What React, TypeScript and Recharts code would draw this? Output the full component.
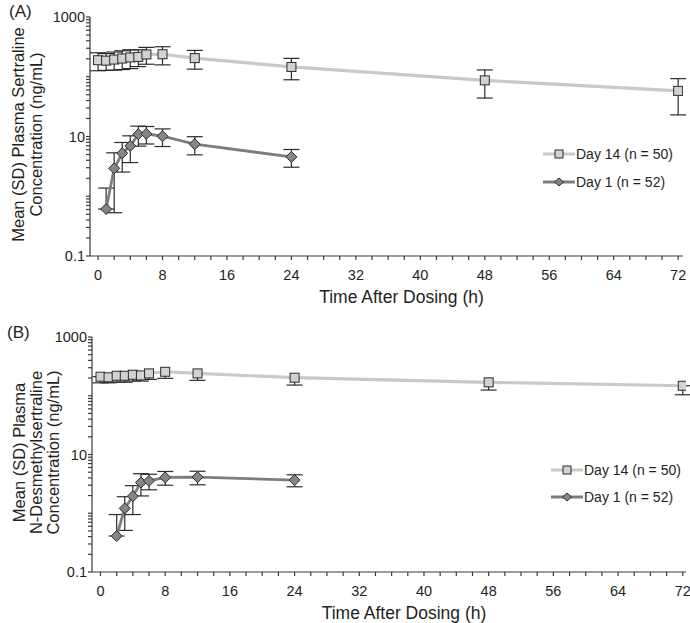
import { LineChart, Line, XAxis, YAxis, ErrorBar } from "recharts"

// sampling times (h)
const day14Times = [0, 1, 2, 3, 4, 5, 6, 8, 12, 24, 48, 72]
const day1TimesA = [1, 2, 3, 4, 5, 6, 8, 12, 24]
const day1TimesB = [2, 3, 4, 5, 6, 8, 12, 24]

// (A) sertraline, ng/mL
const sertDay14Mean = [189, 186, 194, 202, 210, 215, 236, 238, 205, 146, 87, 58]
const sertDay14Sd = [63, 58, 65, 70, 73, 67, 74, 80, 71, 57, 43, 35]
const sertDay1Mean = [0.61, 2.93, 5.24, 6.96, 10.9, 11.1, 10.1, 7.43, 4.56]
const sertDay1Sd = [0.76, 2.4, 2.7, 3.3, 4.0, 3.6, 3.3, 2.5, 1.5]

// (B) N-desmethylsertraline, ng/mL
const desDay14Mean = [211, 206, 219, 219, 228, 222, 240, 256, 240, 203, 169, 148]
const desDay14Sd = [45, 40, 48, 49, 50, 44, 50, 58, 57, 51, 44, 44]
const desDay1Mean = [0.41, 1.21, 1.95, 3.34, 3.56, 4.07, 4.12, 3.67]
const desDay1Sd = [0.54, 0.7, 1.0, 1.37, 1.05, 1.07, 1.07, 0.85]

const day14Name = "Day 14 (n = 50)"
const day1Name = "Day 1 (n = 52)"

const xTicks = Array.from({ length: 37 }, (_, i) => i * 2)
const xLabels = [0, 8, 16, 24, 32, 40, 48, 56, 64, 72]
const yLabels = [0.1, 10, 1000]
const yTicks: number[] = [0.1, 1, 10, 100].flatMap((d) => [1, 2, 3, 4, 5, 6, 7, 8, 9].map((m) => d * m)).concat([1000])

const FONT = '"Liberation Sans", Arial, sans-serif'
const INK = "#231f20"
const LIGHT = "#c9c9c9"
const DARK = "#7d7d7d"
const BAR = "#2b2b2b"

// SD bars on a log axis: no lower whisker when mean - SD would be <= 0
function toRows(times: number[], mean: number[], sd: number[], showUpper = true) {
  return times.map((t, i) => ({
    t,
    mean: mean[i],
    err: [sd[i] < mean[i] ? sd[i] : 0, showUpper ? sd[i] : 0],
  }))
}

function Square({ cx, cy, size = 9 }: { cx: number; cy: number; size?: number }) {
  return <rect x={cx - size / 2} y={cy - size / 2} width={size} height={size} fill="#d2d2d2" stroke={BAR} strokeWidth={1} />
}

function Diamond({ cx, cy, rx = 5.5, ry = 5.5 }: { cx: number; cy: number; rx?: number; ry?: number }) {
  return (
    <polygon
      points={`${cx},${cy - ry} ${cx + rx},${cy} ${cx},${cy + ry} ${cx - rx},${cy}`}
      fill="#858585"
      stroke={BAR}
      strokeWidth={1}
    />
  )
}

function LegendBox({ left, top, rowH }: { left: number; top: number; rowH: number }) {
  const rows = [
    { name: day14Name, color: LIGHT, mark: <Square cx={16} cy={7} size={8} /> },
    { name: day1Name, color: DARK, mark: <Diamond cx={16} cy={7} rx={4.5} ry={4} /> },
  ]
  return (
    <div style={{ position: "absolute", left, top, fontFamily: FONT, fontSize: 14, color: INK }}>
      {rows.map((r) => (
        <div key={r.name} style={{ height: rowH, display: "flex", alignItems: "center", whiteSpace: "nowrap" }}>
          <svg width={32} height={14} style={{ display: "block" }}>
            <line x1={0} x2={32} y1={7} y2={7} stroke={r.color} strokeWidth={3} />
            {r.mark}
          </svg>
          <span style={{ marginLeft: 1 }}>{r.name}</span>
        </div>
      ))}
    </div>
  )
}

interface PanelProps {
  letter: string
  yLines: string[]
  day14: ReturnType<typeof toRows>
  day1: ReturnType<typeof toRows>
  height: number
  yAxisWidth: number
  xAxisHeight: number
  marginRight: number
  xDomain: [number, number]
  letterX: number
  letterY: number
  yLineXs: number[]
  legendLeft: number
  legendTop: number
  legendRowH: number
}

function Panel(p: PanelProps) {
  const yLabel = (props: any) => {
    const vb = props.viewBox || {}
    const cy = (vb.y ?? 17) + (vb.height ?? 239) / 2 - 2
    return (
      <g fontFamily={FONT} fill={INK}>
        <text x={p.letterX} y={p.letterY} fontSize={17} dominantBaseline="central">
          {p.letter}
        </text>
        {p.yLines.map((line, i) => (
          <text
            key={line}
            transform={`translate(${p.yLineXs[i]},${cy}) rotate(-90)`}
            textAnchor="middle"
            dominantBaseline="central"
            fontSize={16.5}
          >
            {line}
          </text>
        ))}
      </g>
    )
  }

  const xLabel = (props: any) => {
    const vb = props.viewBox || {}
    return (
      <text
        x={(vb.x ?? 90) + (vb.width ?? 593) / 2 + 15}
        y={(vb.y ?? 256) + 41}
        textAnchor="middle"
        dominantBaseline="central"
        fontFamily={FONT}
        fontSize={17.5}
        fill={INK}
      >
        Time After Dosing (h)
      </text>
    )
  }

  const series = [
    { key: "d14", data: p.day14, color: LIGHT, width: 3.2, dot: (d: any) => <Square key={`s-${d.index}`} cx={d.cx} cy={d.cy} /> },
    { key: "d1", data: p.day1, color: DARK, width: 2.8, dot: (d: any) => <Diamond key={`d-${d.index}`} cx={d.cx} cy={d.cy} /> },
  ]

  return (
    <div style={{ position: "relative", width: 690, height: p.height }}>
      <LineChart width={690} height={p.height} margin={{ top: 17, right: p.marginRight, bottom: 0, left: 0 }}>
        <XAxis
          type="number"
          dataKey="t"
          domain={p.xDomain}
          ticks={xTicks}
          interval={0}
          allowDataOverflow
          tickFormatter={(v: number) => (xLabels.includes(v) ? String(v) : "")}
          tickSize={4}
          tickMargin={10}
          height={p.xAxisHeight}
          stroke="#3a3a3a"
          strokeWidth={1.2}
          tick={{ fill: INK, fontSize: 14.5, fontFamily: FONT }}
          label={xLabel}
        />
        <YAxis
          type="number"
          scale="log"
          domain={[0.1, 1000]}
          ticks={yTicks}
          interval={0}
          allowDataOverflow
          tickFormatter={(v: number) => (yLabels.includes(v) ? String(v) : "")}
          tickSize={4}
          tickMargin={1}
          width={p.yAxisWidth}
          stroke="#3a3a3a"
          strokeWidth={1.2}
          tick={{ fill: INK, fontSize: 14.5, fontFamily: FONT }}
          label={yLabel}
        />
        {/* lines + SD bars first, markers drawn on top */}
        {series.map((s) => (
          <Line
            key={`${s.key}-line`}
            data={s.data}
            dataKey="mean"
            stroke={s.color}
            strokeWidth={s.width}
            dot={false}
            activeDot={false}
            isAnimationActive={false}
          >
            <ErrorBar dataKey="err" direction="y" width={8} stroke={BAR} strokeWidth={1.2} isAnimationActive={false} />
          </Line>
        ))}
        {series.map((s) => (
          <Line
            key={`${s.key}-dots`}
            data={s.data}
            dataKey="mean"
            stroke="none"
            dot={s.dot}
            activeDot={false}
            isAnimationActive={false}
          />
        ))}
      </LineChart>
      <LegendBox left={p.legendLeft} top={p.legendTop} rowH={p.legendRowH} />
    </div>
  )
}

export default function App() {
  return (
    <div style={{ position: "absolute", left: 0, top: 0, width: 690, height: 623, background: "#fff" }}>
      <Panel
        letter="(A)"
        yLines={["Mean (SD) Plasma Sertraline", "Concentration (ng/mL)"]}
        day14={toRows(day14Times, sertDay14Mean, sertDay14Sd)}
        day1={toRows(day1TimesA, sertDay1Mean, sertDay1Sd)}
        height={320}
        yAxisWidth={90}
        xAxisHeight={64}
        marginRight={7}
        xDomain={[-1, 72.6]}
        letterX={9}
        letterY={11}
        yLineXs={[18, 36]}
        legendLeft={543}
        legendTop={140}
        legendRowH={28}
      />
      <Panel
        letter="(B)"
        yLines={["Mean (SD) Plasma", "N-Desmethylsertraline", "Concentration (ng/mL)"]}
        day14={toRows(day14Times, desDay14Mean, desDay14Sd, false)}
        day1={toRows(day1TimesB, desDay1Mean, desDay1Sd)}
        height={303}
        yAxisWidth={92}
        xAxisHeight={51}
        marginRight={4}
        xDomain={[-1.05, 72.4]}
        letterX={7}
        letterY={12}
        yLineXs={[19, 36, 53]}
        legendLeft={551}
        legendTop={136}
        legendRowH={27}
      />
    </div>
  )
}
